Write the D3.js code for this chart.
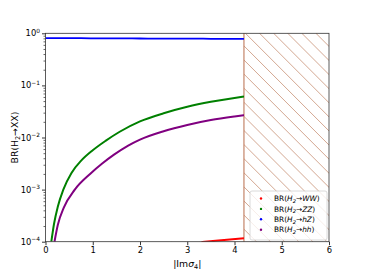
<!DOCTYPE html>
<html><head><meta charset="utf-8">
<script src="https://cdn.jsdelivr.net/npm/d3@7"></script>
<style>
html,body{margin:0;padding:0;background:#fff;}
svg text{font-family:"DejaVu Sans",sans-serif;}
</style></head>
<body><svg id="c" width="366" height="274"></svg>
<script>
// ---- data ----
const xTicks = [0, 1, 2, 3, 4, 5, 6];
const yTickExps = [0, -1, -2, -3, -4];
const boundX = 4.2;            // start of excluded (hatched) region
const xMax = 6;

const wwX = [3.3, 3.6, 3.9, 4.2];
const wwY = [0.98e-4, 1.04e-4, 1.1e-4, 1.16e-4];

const zzX = [0.123, 0.18, 0.26, 0.377, 0.55, 0.76, 1.0, 1.27, 1.57, 2.0, 2.5, 3.0, 3.5, 4.0, 4.2];
const zzY = [1.0e-4, 2.19e-4, 4.68e-4, 1.0e-3, 2.09e-3, 3.63e-3, 5.69e-3, 8.61e-3, 0.0129, 0.0204, 0.0292, 0.0389, 0.0484, 0.0575, 0.061];

const hzX = [0, 0.5, 1.0, 1.5, 2.0, 2.5, 3.0, 3.5, 4.0, 4.2];
const hzY = [0.81, 0.81, 0.80, 0.80, 0.795, 0.79, 0.79, 0.785, 0.78, 0.78];

const hhX = [0.19, 0.26, 0.39, 0.62, 0.955, 1.2, 1.45, 1.75, 2.0, 2.5, 3.0, 3.5, 4.0, 4.2];
const hhY = [1.0e-4, 2.09e-4, 4.57e-4, 1.0e-3, 2.04e-3, 3.16e-3, 4.68e-3, 7.0e-3, 9.12e-3, 0.0132, 0.0174, 0.0216, 0.0254, 0.0269];

const seriesNames = ["WW", "ZZ", "hZ", "hh"];
const seriesColors = ["#ff0000", "#008000", "#0000ff", "#800080"];
const seriesX = [wwX, zzX, hzX, hhX];
const seriesY = [wwY, zzY, hzY, hhY];

// ---- layout ----
const L = 45.5, R = 329, T = 33.3, B = 241.7;
const svg = d3.select("#c");
const x = d3.scaleLinear().domain([0, xMax]).range([L, R]);
const y = d3.scaleLog().domain([1e-4, 1]).range([B, T]);

svg.append("defs").append("clipPath").attr("id", "plot")
  .append("rect").attr("x", L).attr("y", T).attr("width", R - L).attr("height", B - T);

// hatched excluded region
const hatchCol = "#c48a6c";
const hg = svg.append("g").attr("clip-path", "url(#plot)");
const x0 = x(boundX);
const step = 14.1;
const hgt = B - T;
for (let k = -20; k < 20; k++) {
  const xs = x0 + 1.5 + k * step;
  hg.append("line").attr("x1", xs).attr("y1", T).attr("x2", xs + hgt).attr("y2", B)
    .attr("stroke", hatchCol).attr("stroke-width", 0.75);
}
// cover hatch left of boundary
svg.append("rect").attr("x", L).attr("y", T).attr("width", x0 - L).attr("height", B - T).attr("fill", "#fff");
svg.append("line").attr("x1", x0).attr("x2", x0).attr("y1", T).attr("y2", B)
  .attr("stroke", "#bf7a5c").attr("stroke-width", 1.1);

// curves
const cg = svg.append("g").attr("clip-path", "url(#plot)");
const line = d3.line().x(d => x(d[0])).y(d => y(d[1])).curve(d3.curveMonotoneX);
seriesX.forEach((xs, i) => {
  const pts = xs.map((v, j) => [v, seriesY[i][j]]);
  cg.append("path").attr("d", line(pts)).attr("fill", "none")
    .attr("stroke", seriesColors[i]).attr("stroke-width", i === 2 ? 1.8 : 2);
});

// axes
const tickFont = 8.4;
const xa = svg.append("g").attr("transform", `translate(0,${B})`)
  .call(d3.axisBottom(x).tickValues(xTicks).tickFormat(d3.format("d")).tickSize(3.5).tickPadding(2));
xa.select(".domain").remove();
xa.selectAll("text").attr("font-size", tickFont).attr("fill", "#000").attr("font-family", "DejaVu Sans");
xa.selectAll("line").attr("stroke", "#000").attr("stroke-width", 0.8);

const yMajor = yTickExps.map(e => Math.pow(10, e));
const ya = svg.append("g").attr("transform", `translate(${L},0)`)
  .call(d3.axisLeft(y).tickValues(yMajor).tickFormat("").tickSize(3.5));
ya.select(".domain").remove();
ya.selectAll("line").attr("stroke", "#000").attr("stroke-width", 0.8);
// minor ticks
const minor = [];
yTickExps.slice(1).forEach(e => { for (let m = 2; m <= 9; m++) minor.push(m * Math.pow(10, e)); });
svg.append("g").attr("transform", `translate(${L},0)`)
  .call(d3.axisLeft(y).tickValues(minor).tickFormat("").tickSize(2))
  .call(g => g.select(".domain").remove())
  .selectAll("line").attr("stroke", "#000").attr("stroke-width", 0.6);
// y tick labels with superscripts
yTickExps.forEach(e => {
  const t = svg.append("text").attr("x", L - 5.5).attr("y", y(Math.pow(10, e)) + 3)
    .attr("text-anchor", "end").attr("font-size", tickFont);
  t.append("tspan").text("10");
  t.append("tspan").attr("dy", -3.5).attr("font-size", tickFont * 0.7)
    .text(e === 0 ? "0" : "\u2212" + (-e));
});

// spines
svg.append("rect").attr("x", L).attr("y", T).attr("width", R - L).attr("height", B - T)
  .attr("fill", "none").attr("stroke", "#333").attr("stroke-width", 0.8);

// axis labels
const xl = svg.append("text").attr("x", (L + R) / 2).attr("y", 266.5)
  .attr("text-anchor", "middle").attr("font-size", 9.3);
xl.append("tspan").text("|Im");
xl.append("tspan").attr("font-style", "italic").text("\u03c3");
xl.append("tspan").attr("font-size", 6.5).attr("dy", 2).text("4");
xl.append("tspan").attr("dy", -2).text("|");

const yl = svg.append("text").attr("transform", `translate(18,${(T + B) / 2}) rotate(-90)`)
  .attr("text-anchor", "middle").attr("font-size", 9.3);
yl.append("tspan").text("BR(H");
yl.append("tspan").attr("font-size", 6.5).attr("dy", 2).text("2");
yl.append("tspan").attr("dy", -2).text("\u2192XX)");

// legend
const lg = svg.append("g");
lg.append("rect").attr("x", 250).attr("y", 191).attr("width", 77).attr("height", 49).attr("rx", 2)
  .attr("fill", "#fff").attr("fill-opacity", 0.8).attr("stroke", "#d0d0d0").attr("stroke-width", 0.8);
seriesNames.forEach((n, i) => {
  const yy = 198.5 + i * 10.4;
  lg.append("circle").attr("cx", 261).attr("cy", yy).attr("r", 1.2).attr("fill", seriesColors[i]);
  const t = lg.append("text").attr("x", 274).attr("y", yy + 2.7).attr("font-size", 7.4);
  t.append("tspan").text("BR(");
  t.append("tspan").attr("font-style", "italic").text("H");
  t.append("tspan").attr("font-size", 5.2).attr("dy", 1.6).attr("font-style", "italic").text("2");
  t.append("tspan").attr("dy", -1.6).text("\u2192");
  t.append("tspan").attr("font-style", "italic").text(n);
  t.append("tspan").text(")");
});
</script></body></html>
